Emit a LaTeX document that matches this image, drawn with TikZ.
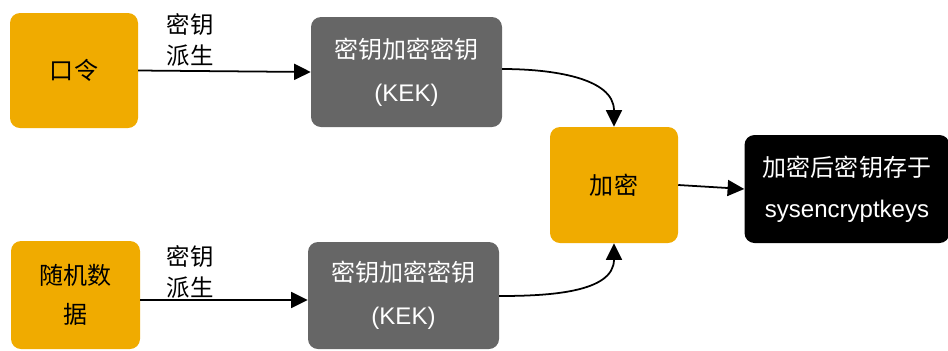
\documentclass[tikz,border=0pt]{standalone}
\usepackage{fontspec}
\setmainfont{Liberation Sans}
\newfontfamily\cjk{Noto Sans CJK SC}
\usetikzlibrary{arrows.meta}
\definecolor{gold}{RGB}{240,171,0}
\definecolor{kekgray}{RGB}{102,102,102}
\begin{document}
\begin{tikzpicture}[x=0.03cm,y=-0.03cm,
  box/.style 2 args={rounded corners=0.3cm, minimum width=#1*0.03cm, minimum height=#2*0.03cm, inner sep=0pt, align=center},
  goldbox/.style={fill=gold, text=black},
  graybox/.style={fill=kekgray, text=white},
  blackbox/.style={fill=black, text=white},
  txt/.style={font=\fontsize{20.5pt}{#1}\selectfont},
  lbl/.style={align=center, inner sep=0pt, font=\fontsize{20pt}{26.5pt}\selectfont\cjk},
  conn/.style={-{Triangle[length=0.5cm,width=0.48cm]}, line width=1.5pt}]
\useasboundingbox (0,0) rectangle (948,350);
\node[box={128}{115}, goldbox, txt=31pt] (pw) at (74,70.5) {\cjk 口令};
\node[box={191}{110}, graybox, txt=37pt] (kek1) at (406.5,72) {\cjk 密钥加密密钥\\(KEK)};
\node[box={128}{116}, goldbox, txt=31pt] (enc) at (614,185) {\cjk 加密};
\node[box={205}{108}, blackbox, txt=35pt] (out) at (847,189) {\cjk 加密后密钥存于\\sysencryptkeys};
\node[box={129}{108}, goldbox, txt=33pt] (rnd) at (75.5,295) {\cjk 随机数\\\cjk 据};
\node[box={191}{107}, graybox, txt=37pt] (kek2) at (403.5,295.5) {\cjk 密钥加密密钥\\(KEK)};
\node[lbl] (l1) at (190,40) {密钥\\派生};
\node[lbl] (l2) at (190,272) {密钥\\派生};
\draw[conn] (pw.east) -- (kek1.west);
\draw[conn] ([yshift=-0.15cm]rnd.east) -- ([yshift=-0.135cm]kek2.west);
\draw[conn] ([yshift=0.09cm]kek1.east) to[out=0,in=90] (enc.north);
\draw[conn] ([yshift=-0.015cm]kek2.east) to[out=0,in=-90] (enc.south);
\draw[conn] (enc.east) -- (out.west);
\end{tikzpicture}
\end{document}
